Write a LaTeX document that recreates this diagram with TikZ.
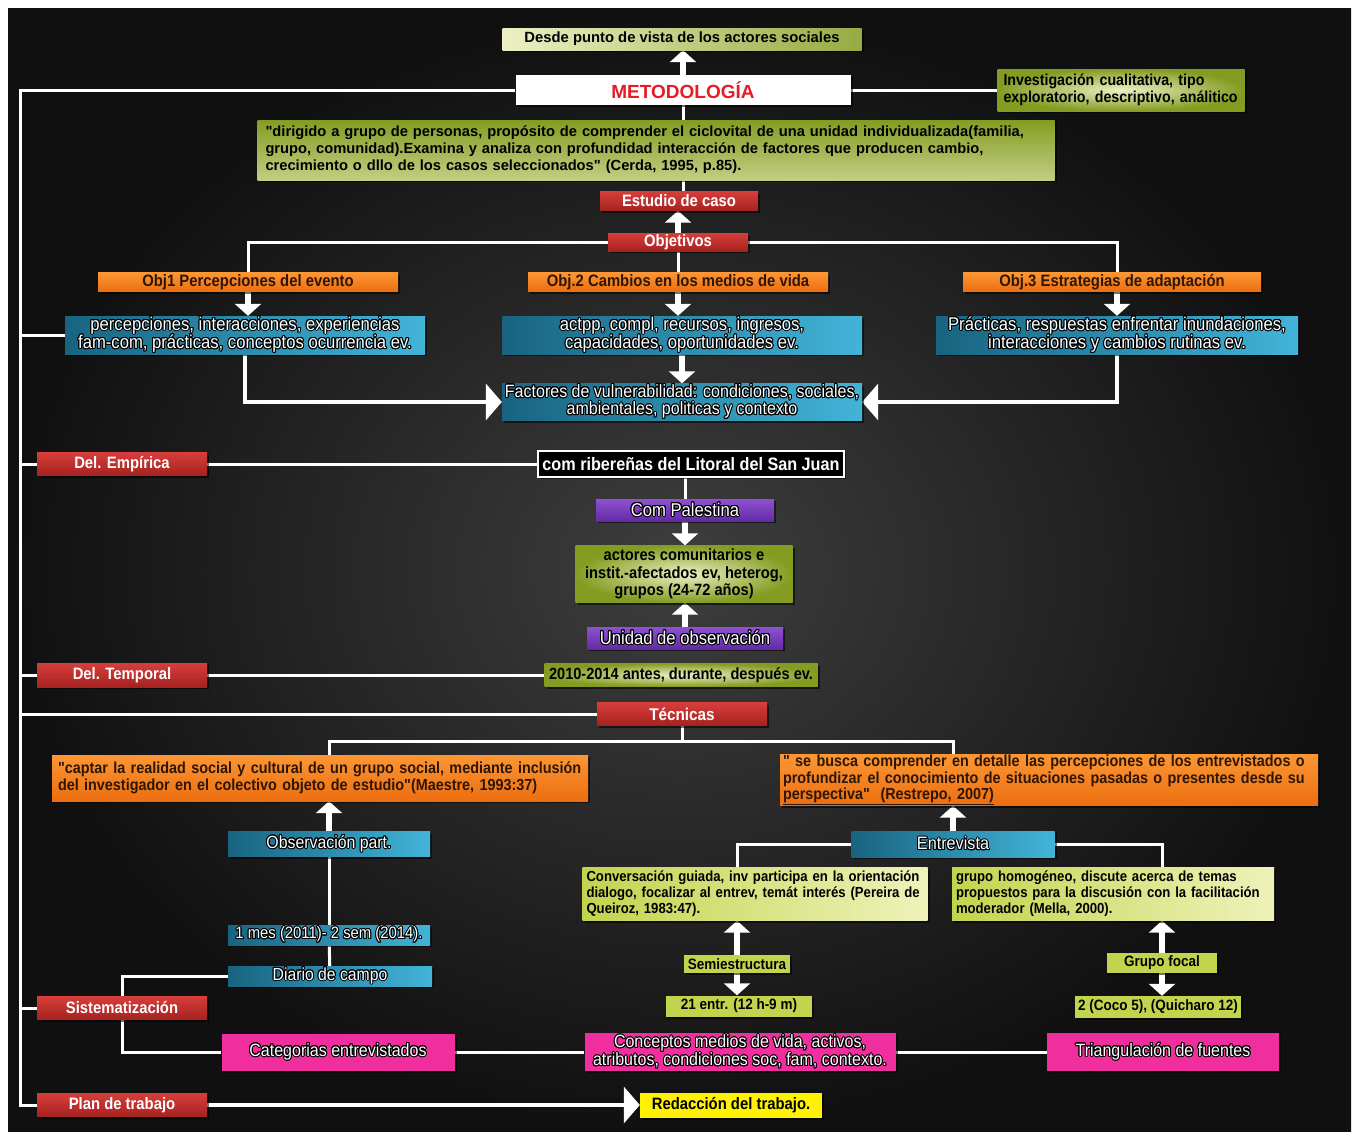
\documentclass[tikz,border=0pt]{standalone}
\usepackage{fontspec}
\setmainfont{Liberation Sans}
\newfontfamily\wid{Liberation Sans}
\newfontfamily\nar{Liberation Sans}[FakeStretch=0.9]
\usepackage[copies]{contour}
\contourlength{1pt}
\usetikzlibrary{arrows.meta,shadows,calc}
\newcommand\olt[1]{\contour{black}{#1}}
\definecolor{bgA}{RGB}{62,62,62}
\definecolor{bgB}{RGB}{16,16,16}
\definecolor{redT}{RGB}{214,62,58}
\definecolor{redB}{RGB}{166,34,32}
\definecolor{orT}{RGB}{252,150,52}
\definecolor{orB}{RGB}{236,110,16}
\definecolor{orTxt}{RGB}{45,22,4}
\definecolor{tealL}{RGB}{24,100,128}
\definecolor{tealR}{RGB}{66,180,216}
\definecolor{olv}{RGB}{132,156,34}
\definecolor{olvL}{RGB}{236,240,196}
\definecolor{lgA}{RGB}{194,212,78}
\definecolor{lgB}{RGB}{238,242,186}
\definecolor{purT}{RGB}{142,82,208}
\definecolor{purB}{RGB}{100,42,166}
\definecolor{pnk}{RGB}{240,46,158}
\definecolor{yel}{RGB}{255,242,0}
\definecolor{metred}{RGB}{232,28,36}
\pgfdeclarelayer{back}
\pgfdeclarelayer{lines}
\pgfsetlayers{back,lines,main}
\tikzset{
  base/.style={inner sep=3pt, align=center,
    drop shadow={shadow xshift=2pt,shadow yshift=-2pt,opacity=.55,fill=black}},
  wh/.style 2 args={minimum width=#1pt, minimum height=#2pt},
  redbox/.style={base, top color=redT, bottom color=redB, text=white, inner sep=0pt,
    font={\nar\bfseries\fontsize{16.5}{18}\selectfont}},
  orbox/.style={base, top color=orT, bottom color=orB, text=orTxt,
    font={\nar\bfseries\fontsize{16.5}{17}\selectfont}},
  tealbox/.style={base, left color=tealL, right color=tealR, text=white, inner sep=0pt,
    font={\nar\fontsize{18.5}{18.5}\selectfont}},
  purbox/.style={base, top color=purT, bottom color=purB, text=white, inner sep=0pt,
    font={\nar\fontsize{18.5}{19}\selectfont}},
  pinkbox/.style={base, fill=pnk, text=white, inner sep=0pt,
    font={\nar\fontsize{17.8}{18}\selectfont}},
  olvbox/.style={base, inner color=olvL, outer color=olv, text=black, inner sep=0pt,
    font={\nar\bfseries\fontsize{16.3}{17.5}\selectfont}},
  lgbox/.style={base, left color=lgA, right color=lgB, text=black,
    font={\nar\bfseries\fontsize{14.6}{16}\selectfont}},
  smallg/.style={base, fill=lgA, text=black, inner sep=0pt,
    font={\nar\bfseries\fontsize{15}{16}\selectfont}},
  conn/.style={draw=white, line width=3pt},
  barrow/.style={draw=white, line width=6pt, -{Triangle[width=26pt,length=12pt]}},
  sidearrow/.style={draw=white, line width=4pt, -{Triangle[width=36pt,length=16pt]}},
}
\begin{document}
\begin{tikzpicture}[x=1pt,y=-1pt]
\useasboundingbox (0,0) rectangle (1358,1135);
\begin{pgfonlayer}{back}
  \fill[white] (0,0) rectangle (1358,1135);
  \shade[inner color=bgA, outer color=bgB] (8,8) rectangle (1351,1131);
\end{pgfonlayer}

% ---------- top ----------
\node[base, wh={359}{22}, inner sep=0pt, left color=olvL, right color=olv!85!white, text=black,
  font={\wid\bfseries\fontsize{14.8}{16}\selectfont}] (desde) at (682,39)
  {Desde punto de vista de los actores sociales};
\node[base, wh={335}{30}, fill=white, text=metred,
  font={\wid\bfseries\fontsize{19}{21}\selectfont}] (met) at (683,90) {METODOLOGÍA};
\node[olvbox, wh={247}{42}, text width=235pt, align=left,
  font={\nar\bfseries\fontsize{15.8}{16.5}\selectfont}] (inv) at (1121,90)
  {Investigación cualitativa, tipo\\exploratorio, descriptivo, análitico};
\node[base, wh={797}{60}, inner sep=0pt, top color=olv, bottom color=olvL!60!olv, text=black,
  text width=781pt, align=left,
  font={\wid\bfseries\fontsize{14.7}{17}\selectfont}] (quote) at (656,150)
  {"dirigido a grupo de personas, propósito de comprender el ciclovital de una unidad individualizada(familia,\\
   grupo, comunidad).Examina y analiza con profundidad interacción de factores que producen cambio,\\
   crecimiento o dllo de los casos seleccionados" (Cerda, 1995, p.85).};
\node[redbox, wh={158}{19}] (est) at (679,201) {Estudio de caso};
\node[redbox, wh={140}{18}] (obj) at (678,242) {Objetivos};

% ---------- objectives ----------
\node[orbox, wh={300}{19}, inner sep=0pt] (o1) at (248,282) {Obj1 Percepciones del evento};
\node[orbox, wh={300}{19}, inner sep=0pt] (o2) at (678,282) {Obj.2 Cambios en los medios de vida};
\node[orbox, wh={298}{19}, inner sep=0pt] (o3) at (1112,282) {Obj.3 Estrategias de adaptación};
\node[tealbox, wh={360}{38}] (t1) at (245,335)
  {\olt{percepciones, interacciones, experiencias}\\\olt{fam-com, prácticas, conceptos ocurrencia ev.}};
\node[tealbox, wh={360}{38}] (t2) at (682,335)
  {\olt{actpp, compl, recursos, ingresos,}\\\olt{capacidades, oportunidades ev.}};
\node[tealbox, wh={362}{38}] (t3) at (1117,335)
  {\olt{Prácticas, respuestas enfrentar inundaciones,}\\\olt{interacciones y cambios rutinas ev.}};
\node[tealbox, wh={360}{37},
  font={\nar\fontsize{17.8}{17.5}\selectfont}] (fac) at (682,402)
  {\olt{Factores de vulnerabilidad: condiciones, sociales,}\\\olt{ambientales, politicas y contexto}};

% ---------- delimitations ----------
\node[redbox, wh={170}{23}] (emp) at (122,464) {Del. Empírica};
\node[base, wh={306}{26}, inner sep=0pt, fill=black, draw=white, line width=1.5pt, text=white,
  font={\nar\bfseries\fontsize{18}{19}\selectfont}] (rib) at (691,464)
  {com ribereñas del Litoral del San Juan};
\node[purbox, wh={178}{22}] (pal) at (685,510) {\olt{Com Palestina}};
\node[olvbox, wh={217}{57}] (act) at (684,574)
  {actores comunitarios e\\instit.-afectados ev, heterog,\\grupos (24-72 años)};
\node[purbox, wh={196}{22}] (uni) at (685,638) {\olt{Unidad de observación}};
\node[redbox, wh={170}{24}] (temp) at (122,675) {Del. Temporal};
\node[olvbox, wh={273}{23},
  font={\nar\bfseries\fontsize{16.2}{17}\selectfont}] (per) at (681,675) {2010-2014 antes, durante, después ev.};

% ---------- techniques ----------
\node[redbox, wh={170}{23},
  font={\nar\bfseries\fontsize{17}{18}\selectfont}] (tec) at (682,714) {Técnicas};
\node[orbox, wh={536}{46}, text width=524pt, align=left, inner sep=0pt,
  font={\nar\bfseries\fontsize{16}{17}\selectfont}] (q1) at (320,778)
  {"captar la realidad social y cultural de un grupo social, mediante inclusión\\
   del investigador en el colectivo objeto de estudio"(Maestre, 1993:37)};
\node[orbox, wh={538}{51}, text width=532pt, align=left, inner sep=0pt,
  font={\nar\bfseries\fontsize{16}{16.5}\selectfont}] (q2) at (1049,780)
  {" se busca comprender en detalle las percepciones de los entrevistados o\\
   profundizar el conocimiento de situaciones pasadas o presentes desde su\\
   \underline{perspectiva"\ \ (Restrepo, 2007)}};
\node[tealbox, wh={202}{25},
  font={\nar\fontsize{17.6}{18}\selectfont}] (obs) at (329,844) {\olt{Observación part.}};
\node[tealbox, wh={202}{20},
  font={\nar\fontsize{16.5}{17}\selectfont}] (mes) at (329,935) {\olt{1 mes (2011)- 2 sem (2014).}};
\node[tealbox, wh={204}{20},
  font={\nar\fontsize{17.5}{18}\selectfont}] (diario) at (330,976) {\olt{Diario de campo}};
\node[tealbox, wh={203}{26},
  font={\nar\fontsize{18}{18}\selectfont}] (entrev) at (953,844) {\olt{Entrevista}};
\node[lgbox, wh={345}{53}, text width=337pt, align=left, inner sep=0pt] (conv) at (755,894)
  {Conversación guiada, inv participa en la orientación\\
   dialogo, focalizar al entrev, temát interés (Pereira de\\
   Queiroz, 1983:47).};
\node[lgbox, wh={322}{53}, text width=314pt, align=left, inner sep=0pt] (gh) at (1113,894)
  {grupo homogéneo, discute acerca de temas\\
   propuestos para la discusión con la facilitación\\
   moderador (Mella, 2000).};
\node[smallg, wh={106}{18}] (semi) at (737,964) {Semiestructura};
\node[smallg, wh={146}{21}] (e21) at (739,1006) {21 entr. (12 h-9 m)};
\node[smallg, wh={110}{20}] (gf) at (1162,963) {Grupo focal};
\node[smallg, wh={166}{22}] (coco) at (1158,1007) {2 (Coco 5), (Quicharo 12)};

% ---------- bottom ----------
\node[redbox, wh={170}{23}] (sist) at (122,1008) {Sistematización};
\node[pinkbox, wh={233}{37}] (cat) at (338,1052) {\olt{Categorias entrevistados}};
\node[pinkbox, wh={311}{38}] (conc) at (740,1052)
  {\olt{Conceptos medios de vida, activos,}\\\olt{atributos, condiciones soc, fam, contexto.}};
\node[pinkbox, wh={232}{38}] (tri) at (1163,1052) {\olt{Triangulación de fuentes}};
\node[redbox, wh={170}{23}] (plan) at (122,1105) {Plan de trabajo};
\node[base, wh={182}{25}, inner sep=0pt, fill=yel, text=black,
  font={\nar\bfseries\fontsize{16.5}{17}\selectfont}] (red) at (731,1105) {Redacción del trabajo.};

% ---------- connectors ----------
\begin{pgfonlayer}{lines}
  \coordinate (spine) at (20,0);
  \draw[conn] (met.west) -| (spine |- plan.west) -- (plan.west);
  \draw[conn] (spine |- t1.west) -- (t1.west);
  \draw[conn] (spine |- emp.west) -- (emp.west);
  \draw[conn] (spine |- temp.west) -- (temp.west);
  \draw[conn] (spine |- tec.west) -- (tec.west);
  \draw[conn] (spine |- sist.west) -- (sist.west);

  \draw[barrow] (met) -- (met |- desde.south);
  \draw[conn] (met) -- (inv);
  \draw[conn] (met) -- (met |- quote.north);
  \draw[conn] (met |- quote.south) -- (met |- est.north);
  \draw[barrow] (obj) -- (obj |- est.south);
  \draw[conn] (obj) -- (o2);
  \draw[conn] (obj.west) -| (o1.north);
  \draw[conn] (obj.east) -| (t3.north |- o3.north);

  \draw[barrow] (o1) -- (o1 |- t1.north);
  \draw[barrow] (o2) -- (o2 |- t2.north);
  \draw[barrow] (t3 |- o3.south) -- (t3);
  \draw[barrow] (t2) -- (fac);
  \draw[sidearrow] (t1.south) |- (fac.west);
  \draw[sidearrow] (t3.south) |- (fac.east);

  \draw[conn] (emp) -- (rib);
  \draw[conn] (pal) -- (pal |- rib.south);
  \draw[barrow] (pal) -- (pal |- act.north);
  \draw[barrow] (uni) -- (uni |- act.south);
  \draw[conn] (temp) -- (per);

  \coordinate (tb) at (682,741);
  \draw[conn] (tec) -- (tb);
  \draw[conn] (obs |- q1.north) |- (tb) -| (entrev |- q2.north);
  \draw[barrow] (obs) -- (obs |- q1.south);
  \draw[barrow] (entrev) -- (entrev |- q2.south);
  \draw[conn] (obs) -- (mes);
  \draw[conn] (mes) -- (diario);
  \draw[conn] (diario.west) -| (sist.north);
  \draw[conn] (sist.south) |- (cat.west);
  \draw[conn] (cat) -- (conc);
  \draw[conn] (conc) -- (tri);
  \draw[sidearrow] (plan) -- (red);

  \draw[conn] (entrev.west) -| (semi |- conv.north);
  \draw[conn] (entrev.east) -| (gf |- gh.north);
  \draw[barrow] (semi) -- (semi |- conv.south);
  \draw[barrow] (semi) -- (semi |- e21.north);
  \draw[barrow] (gf) -- (gf |- gh.south);
  \draw[barrow] (gf) -- (gf |- coco.north);
\end{pgfonlayer}
\end{tikzpicture}
\end{document}
